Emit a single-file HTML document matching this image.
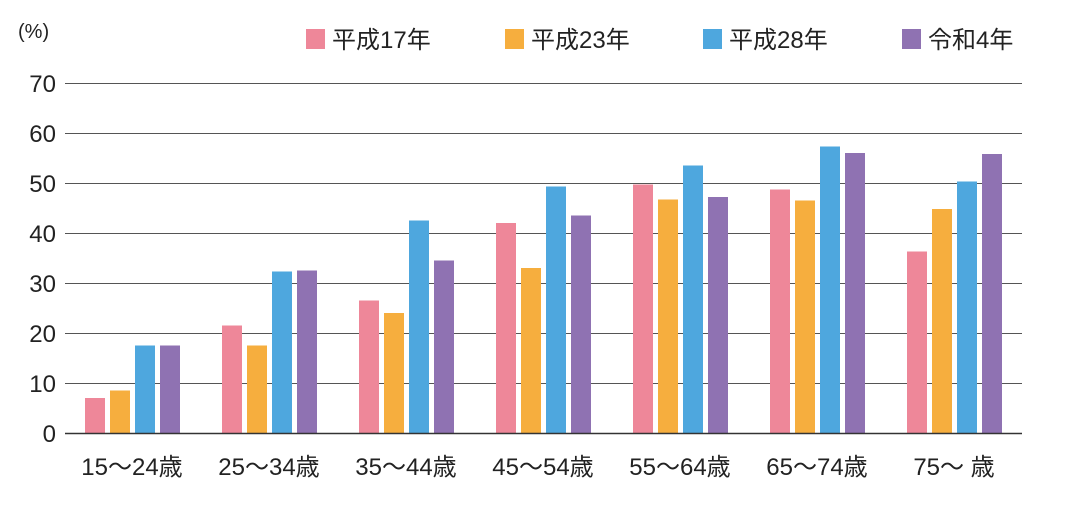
<!DOCTYPE html>
<html><head><meta charset="utf-8"><style>
body{margin:0;background:#fff;}
svg text{font-family:"Liberation Sans","Noto Sans CJK JP",sans-serif;fill:#222;}
</style></head><body>
<svg width="1080" height="504" xmlns="http://www.w3.org/2000/svg">
<g stroke="#555" stroke-width="1">
<line x1="65" x2="1022" y1="83.5" y2="83.5"/>
<line x1="65" x2="1022" y1="133.5" y2="133.5"/>
<line x1="65" x2="1022" y1="183.5" y2="183.5"/>
<line x1="65" x2="1022" y1="233.5" y2="233.5"/>
<line x1="65" x2="1022" y1="283.5" y2="283.5"/>
<line x1="65" x2="1022" y1="333.5" y2="333.5"/>
<line x1="65" x2="1022" y1="383.5" y2="383.5"/>
</g>
<g font-size="24" text-anchor="end">
<text x="56" y="92">70</text><text x="56" y="142">60</text><text x="56" y="192">50</text>
<text x="56" y="242">40</text><text x="56" y="292">30</text><text x="56" y="342">20</text>
<text x="56" y="392">10</text><text x="56" y="442">0</text>
</g>
<text x="18" y="38" font-size="20">(%)</text>
<g font-size="24">
<rect x="306" y="29" width="19" height="20" fill="#EE8799"/><text x="332" y="48">平成17年</text>
<rect x="505" y="29" width="19" height="20" fill="#F6AE3E"/><text x="531" y="48">平成23年</text>
<rect x="703" y="29" width="19" height="20" fill="#4EA7DE"/><text x="729" y="48">平成28年</text>
<rect x="902" y="29" width="19" height="20" fill="#8F72B2"/><text x="928" y="48">令和4年</text>
</g>
<g>
<rect x="85" y="398" width="20" height="35" fill="#EE8799"/>
<rect x="110" y="390.5" width="20" height="42.5" fill="#F6AE3E"/>
<rect x="135" y="345.5" width="20" height="87.5" fill="#4EA7DE"/>
<rect x="160" y="345.5" width="20" height="87.5" fill="#8F72B2"/>
<rect x="222" y="325.5" width="20" height="107.5" fill="#EE8799"/>
<rect x="247" y="345.5" width="20" height="87.5" fill="#F6AE3E"/>
<rect x="272" y="271.5" width="20" height="161.5" fill="#4EA7DE"/>
<rect x="297" y="270.5" width="20" height="162.5" fill="#8F72B2"/>
<rect x="359" y="300.5" width="20" height="132.5" fill="#EE8799"/>
<rect x="384" y="313" width="20" height="120" fill="#F6AE3E"/>
<rect x="409" y="220.5" width="20" height="212.5" fill="#4EA7DE"/>
<rect x="434" y="260.5" width="20" height="172.5" fill="#8F72B2"/>
<rect x="496" y="223" width="20" height="210" fill="#EE8799"/>
<rect x="521" y="268" width="20" height="165" fill="#F6AE3E"/>
<rect x="546" y="186.5" width="20" height="246.5" fill="#4EA7DE"/>
<rect x="571" y="215.5" width="20" height="217.5" fill="#8F72B2"/>
<rect x="633" y="184.5" width="20" height="248.5" fill="#EE8799"/>
<rect x="658" y="199.5" width="20" height="233.5" fill="#F6AE3E"/>
<rect x="683" y="165.5" width="20" height="267.5" fill="#4EA7DE"/>
<rect x="708" y="197" width="20" height="236" fill="#8F72B2"/>
<rect x="770" y="189.5" width="20" height="243.5" fill="#EE8799"/>
<rect x="795" y="200.5" width="20" height="232.5" fill="#F6AE3E"/>
<rect x="820" y="146.5" width="20" height="286.5" fill="#4EA7DE"/>
<rect x="845" y="153" width="20" height="280" fill="#8F72B2"/>
<rect x="907" y="251.5" width="20" height="181.5" fill="#EE8799"/>
<rect x="932" y="209" width="20" height="224" fill="#F6AE3E"/>
<rect x="957" y="181.5" width="20" height="251.5" fill="#4EA7DE"/>
<rect x="982" y="154" width="20" height="279" fill="#8F72B2"/>
</g>
<line x1="65" x2="1022" y1="433.5" y2="433.5" stroke="#333" stroke-width="1.5"/>
<g font-size="24" text-anchor="middle">
<text x="132" y="475">15〜24歳</text><text x="269" y="475">25〜34歳</text>
<text x="406" y="475">35〜44歳</text><text x="543" y="475">45〜54歳</text>
<text x="680" y="475">55〜64歳</text><text x="817" y="475">65〜74歳</text>
<text x="954" y="475">75〜 歳</text>
</g>
</svg>
</body></html>
